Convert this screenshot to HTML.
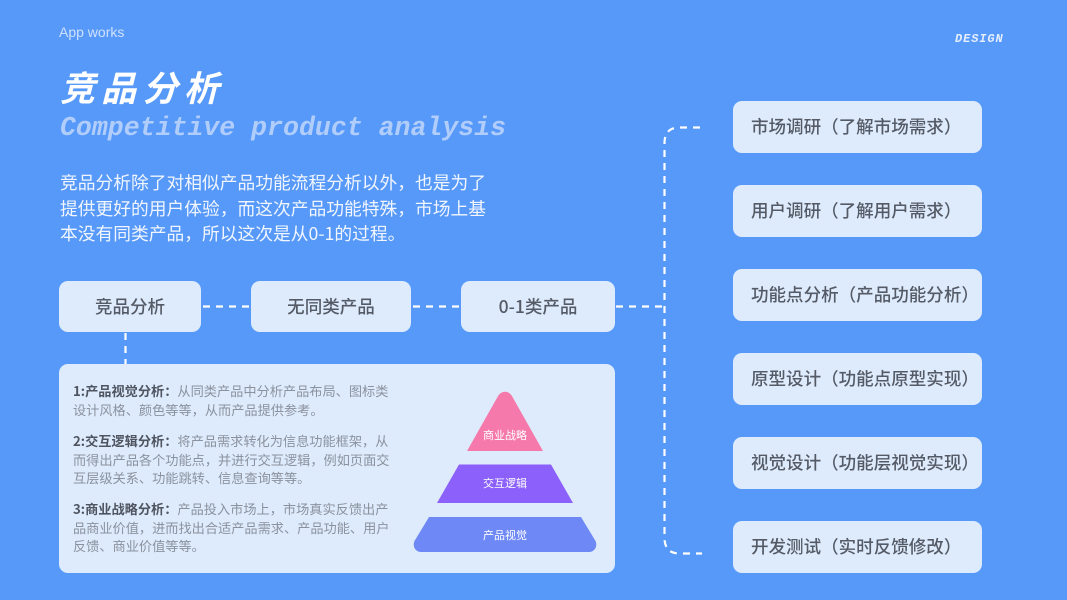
<!DOCTYPE html>
<html lang="zh"><head><meta charset="utf-8"><style>
html,body{margin:0;padding:0}
body{width:1067px;height:600px;overflow:hidden;position:relative;background:#5799f9;font-family:"Noto Sans CJK SC","Liberation Sans",sans-serif}
.t{position:absolute;white-space:nowrap}
.b{position:absolute;background:#deebfc;border-radius:9px;color:#555b66;font-size:17.55px;font-weight:500;line-height:52px;text-align:center;white-space:nowrap}
.r{left:733px;width:249px;height:52px;text-align:left;text-indent:18px}
.p{left:73px;font-size:13.2px;line-height:18.5px;color:#8b929e}
.p b{color:#4f5560;font-weight:700}
svg{position:absolute;left:0;top:0}
</style></head><body>
<div class="t" style="left:59px;top:24px;font-family:'Liberation Sans',sans-serif;font-size:14px;line-height:16px;color:#cfe0fd">App works</div>
<div class="t" style="left:955px;top:32px;font-family:'Liberation Mono',monospace;font-weight:700;font-style:italic;font-size:12px;line-height:14px;letter-spacing:.9px;color:#e6effe">DESIGN</div>
<div class="t" style="left:60px;top:62px;font-size:35px;line-height:50px;font-weight:700;font-style:italic;letter-spacing:6.300px;color:#fff">竞品分析</div>
<div class="t" style="left:60px;top:111px;font-family:'Liberation Mono',monospace;font-weight:700;font-style:italic;font-size:26.55px;line-height:34px;color:#b0cdfb">Competitive product analysis</div>
<div class="t" style="left:60px;top:170px;font-size:17.75px;line-height:25.5px;color:#f1f6fe">竞品分析除了对相似产品功能流程分析以外，也是为了<br>提供更好的用户体验，而这次产品功能特殊，市场上基<br>本没有同类产品，所以这次是从0-1的过程。</div>

<svg width="1067" height="600" fill="none" stroke="#fff" stroke-width="2.200" stroke-dasharray="7 6">
<path d="M203 306.500H251"/><path d="M413 306.500H461"/><path d="M616 306.500H664"/>
<path d="M125.500 333V364"/>
<path d="M700 127.500H680Q664.500 127.500 664.500 143V538Q664.500 553.500 680 553.500H702"/>
</svg>

<div class="b" style="left:59px;top:281px;width:142px;height:51px;line-height:52px">竞品分析</div>
<div class="b" style="left:251px;top:281px;width:160px;height:51px;line-height:52px">无同类产品</div>
<div class="b" style="left:461px;top:281px;width:154px;height:51px;line-height:52px">0-1类产品</div>

<div class="b r" style="top:101px">市场调研（了解市场需求）</div>
<div class="b r" style="top:185px">用户调研（了解用户需求）</div>
<div class="b r" style="top:269px">功能点分析（产品功能分析）</div>
<div class="b r" style="top:353px">原型设计（功能点原型实现）</div>
<div class="b r" style="top:437px">视觉设计（功能层视觉实现）</div>
<div class="b r" style="top:521px">开发测试（实时反馈修改）</div>

<div class="b" style="left:59px;top:364px;width:556px;height:209px"></div>
<div class="t p" style="top:382px"><b>1:产品视觉分析：</b>从同类产品中分析产品布局、图标类<br>设计风格、颜色等等，从而产品提供参考。</div>
<div class="t p" style="top:432px"><b>2:交互逻辑分析：</b>将产品需求转化为信息功能框架，从<br>而得出产品各个功能点，并进行交互逻辑，例如页面交<br>互层级关系、功能跳转、信息查询等等。</div>
<div class="t p" style="top:500px"><b>3:商业战略分析：</b>产品投入市场上，市场真实反馈出产<br>品商业价值，进而找出合适产品需求、产品功能、用户<br>反馈、商业价值等等。</div>

<svg width="1067" height="600">
<path d="M467 451L497.500 397C501 390 509 390 512.500 397L543 451Z" fill="#f57aab"/>
<path d="M459 464.500H551L573 503H437Z" fill="#8b60fb"/>
<path d="M429 517H581L595.500 541C598 547 594 552 589 552H421C416 552 412 547 414.500 541Z" fill="#6e88f5"/>
<g fill="#fff" font-family="'Noto Sans CJK SC','Liberation Sans',sans-serif" font-size="11" text-anchor="middle">
<text x="505" y="439">商业战略</text>
<text x="505" y="487">交互逻辑</text>
<text x="505" y="539">产品视觉</text>
</g>
</svg>
</body></html>
